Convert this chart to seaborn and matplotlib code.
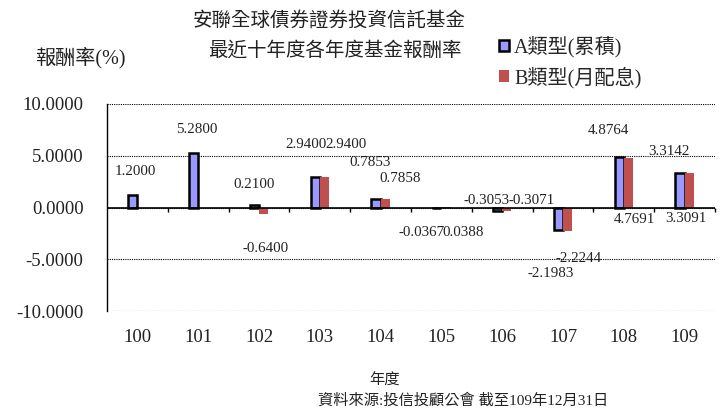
import matplotlib
matplotlib.use("Agg")
import matplotlib.pyplot as plt
import seaborn as sns
import pandas as pd
import numpy as np
from matplotlib.patches import Patch

# ---------------- data ----------------
years = ["100", "101", "102", "103", "104", "105", "106", "107", "108", "109"]
class_a = [1.2000, 5.2800, 0.2100, 2.9400, 0.7853, -0.0367, -0.3053, -2.1983, 4.8764, 3.3142]
class_b = [np.nan, np.nan, -0.6400, 2.9400, 0.7858, 0.0388, -0.3071, -2.2244, 4.7691, 3.3091]
series_names = ["A類型(累積)", "B類型(月配息)"]
y_ticks = [-10, -5, 0, 5, 10]

title_lines = ["安聯全球債券證券投資信託基金", "最近十年度各年度基金報酬率"]
y_title = "報酬率(%)"
x_title = "年度"
footer = "資料來源:投信投顧公會 截至109年12月31日"

# ---------------- label layout (category offsets / label heights) ----------------
a_label_dx = [-0.04, -0.025, -0.08, -0.23, -0.17, -0.33, -0.26, -0.20, -0.26, -0.26]
a_label_y = [3.49, 7.57, 2.18, 6.12, 4.36, -2.37, 0.67, -6.38, 7.47, 5.38]
b_label_dx = [0, 0, 0.10, 0.43, 0.32, 0.36, 0.49, 0.25, 0.18, 0.02]
b_label_y = [np.nan, np.nan, -3.97, 6.12, 2.76, -2.37, 0.67, -4.94, -1.18, -1.09]

A_COLOR = "#9999FF"
B_COLOR = "#C0504D"

df = pd.DataFrame({
    "年度": years * 2,
    "報酬率": class_a + class_b,
    "類型": [series_names[0]] * len(years) + [series_names[1]] * len(years),
})

sns.set_theme(style="white")
plt.rcParams["font.family"] = ["Liberation Serif", "Noto Sans CJK TC"]

fig = plt.figure(figsize=(7.21, 4.08), dpi=100)
ax = fig.add_axes([107 / 721, 1 - 311 / 408, 608 / 721, 207 / 408])

sns.barplot(data=df, x="年度", y="報酬率", hue="類型", hue_order=series_names,
            order=years, palette=[A_COLOR, B_COLOR], width=0.3, saturation=1,
            errorbar=None, legend=False, ax=ax)

for p in ax.containers[0]:
    p.set_edgecolor("black")
    p.set_linewidth(1.8)
for p in ax.containers[1]:
    p.set_edgecolor("none")
    p.set_linewidth(0)

ax.set_xlim(-0.5, len(years) - 0.5)
ax.set_ylim(-10, 10)
ax.set_yticks(y_ticks)
ax.set_yticklabels([f"{t:.4f}" for t in y_ticks])
ax.tick_params(axis="y", length=0, pad=17, labelsize=13.5, colors="#222222")
ax.tick_params(axis="x", length=0, pad=13, labelsize=13.5, colors="#222222")
ax.set_xlabel("")
ax.set_ylabel("")

ax.grid(axis="y", color="black", linestyle=(0, (1, 1)), linewidth=0.8)
ax.set_axisbelow(True)
ax.axhline(0, color="black", linewidth=1.2, zorder=3)
ax.vlines(np.arange(0.5, len(years), 1), -0.4, 0, color="black", linewidth=1, clip_on=False)

for s in ["top", "right", "bottom"]:
    ax.spines[s].set_visible(False)
ax.spines["left"].set_color("black")
ax.spines["left"].set_linewidth(1)

for i in range(len(years)):
    ax.text(i + a_label_dx[i], a_label_y[i], f"{class_a[i]:.4f}", ha="center", va="center",
            fontsize=10.8, color="#222222")
    if not np.isnan(class_b[i]):
        ax.text(i + b_label_dx[i], b_label_y[i], f"{class_b[i]:.4f}", ha="center", va="center",
                fontsize=10.8, color="#222222")

handles = [Patch(facecolor=A_COLOR, edgecolor="black", linewidth=1.8),
           Patch(facecolor=B_COLOR, edgecolor="none")]
fig.legend(handles=handles, labels=series_names, loc="upper left",
           bbox_to_anchor=(499 / 721, 1 - 36 / 408), frameon=False, fontsize=14.5,
           handlelength=0.5, handleheight=0.5, handletextpad=0.25, labelspacing=0.45,
           borderpad=0, borderaxespad=0)

fig.text(329 / 721, 1 - 20 / 408, title_lines[0], ha="center", va="center", fontsize=14, color="#222222")
fig.text(335 / 721, 1 - 50 / 408, title_lines[1], ha="center", va="center", fontsize=14, color="#222222")
fig.text(80 / 721, 1 - 58 / 408, y_title, ha="center", va="center", fontsize=14.5, color="#222222")
fig.text(384 / 721, 1 - 381 / 408, x_title, ha="center", va="center", fontsize=11, color="#222222")
fig.text(463 / 721, 1 - 400 / 408, footer, ha="center", va="center", fontsize=11, color="#222222")

fig.savefig("out.png", dpi=100)
